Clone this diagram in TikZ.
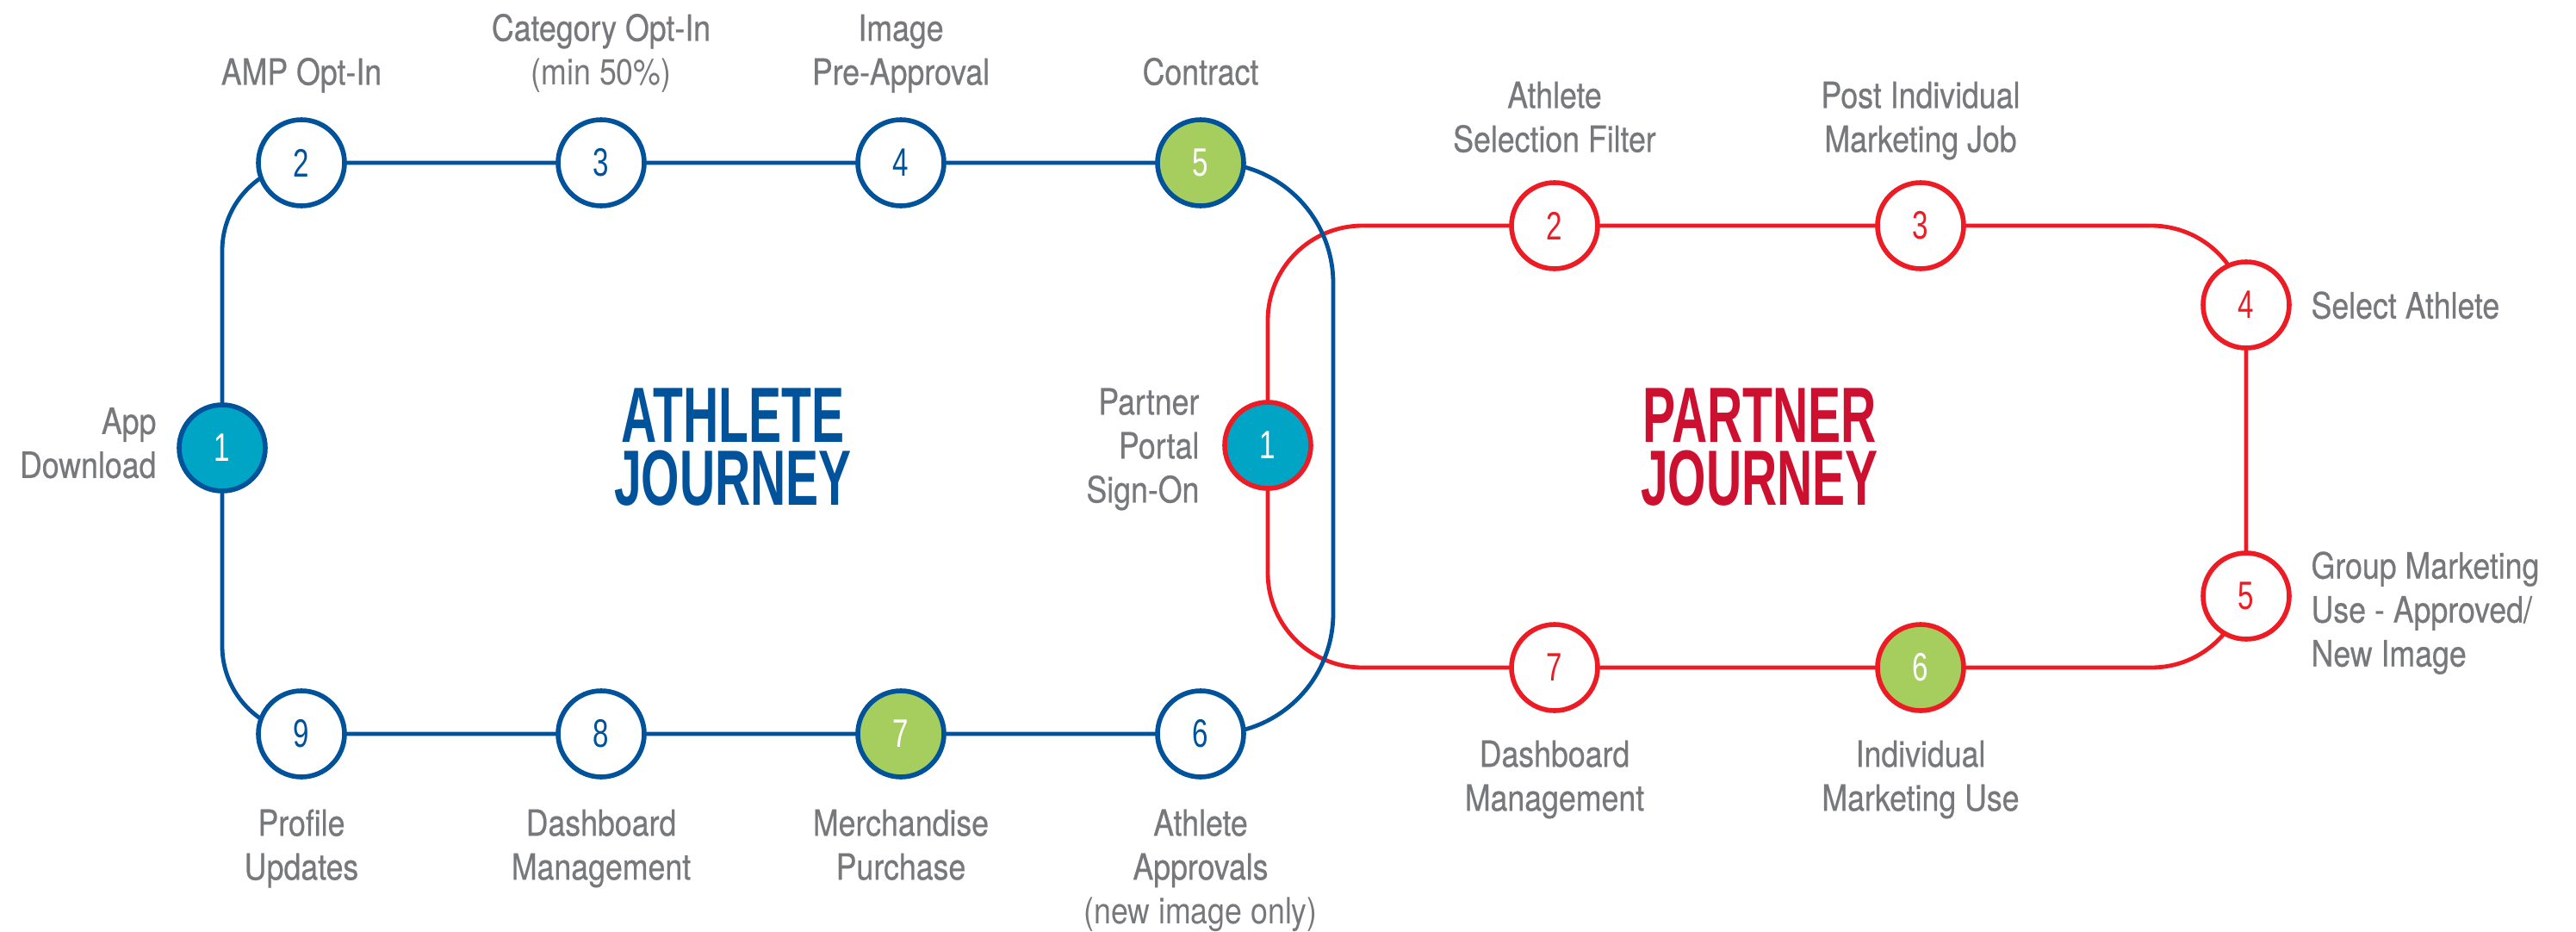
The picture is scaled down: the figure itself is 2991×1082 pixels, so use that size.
\documentclass[tikz,border=0pt]{standalone}
\usepackage{fontspec}
\setmainfont{TeX Gyre Heros}[FakeStretch=0.85, FakeBold=0.5]
\newfontfamily\lightfont{TeX Gyre Heros}[FakeStretch=0.85]
\newfontfamily\titlefont{Liberation Sans}[FakeStretch=0.627]
\newfontfamily\numfont{Liberation Sans}[FakeStretch=0.72]
\usetikzlibrary{positioning,
		backgrounds}

\definecolor{ampblue}{HTML}{00529B}
\definecolor{ampred}{HTML}{ED1C24}
\definecolor{titlered}{HTML}{CE1030}
\definecolor{ampcyan}{HTML}{00A5C6}
\definecolor{ampgreen}{HTML}{A6CE5F}
\definecolor{labelgray}{HTML}{77787B}

\begin{document}
\begin{tikzpicture}[x=0.25pt, y=-0.25pt,
  stop/.style={circle, minimum size=25pt, inner sep=0pt, line width=1.4pt, fill=white,
    font=\numfont\fontsize{11.5pt}{11.5pt}\selectfont},
  athstop/.style={stop, draw=ampblue, text=ampblue},
  parstop/.style={stop, draw=ampred, text=ampred},
  start/.style={fill=ampcyan, text=white},
  deal/.style={fill=ampgreen, text=white},
  lbl/.style={font=\fontsize{10.5pt}{12.75pt}\selectfont, text=labelgray,
    align=center, inner sep=0pt, text depth=0pt},
  jtitle/.style={font=\titlefont\bfseries\fontsize{22.75pt}{18.25pt}\selectfont,
    align=center, inner sep=0pt}]

\useasboundingbox (0,0) rectangle (2991,1082);

% athlete journey
\node[athstop, start] (a1) at (258,520) {1};
\node[athstop] (a2) at (350,189) {2};
\node[athstop] (a3) at (698,189) {3};
\node[athstop] (a4) at (1046,189) {4};
\node[athstop, deal] (a5) at (1394,189) {5};
\node[athstop] (a6) at (1394,852) {6};
\node[athstop, deal] (a7) at (1046,852) {7};
\node[athstop] (a8) at (698,852) {8};
\node[athstop] (a9) at (350,852) {9};
\coordinate (ar) at (1548,520);

% partner journey
\node[parstop, start] (p1) at (1472,517) {1};
\node[parstop] (p2) at (1805,262) {2};
\node[parstop] (p3) at (2230,262) {3};
\node[parstop] (p4) at (2608,354) {4};
\node[parstop] (p5) at (2608,692) {5};
\node[parstop, deal] (p6) at (2230,775) {6};
\node[parstop] (p7) at (1805,775) {7};
\coordinate (pr) at (2608,518);

\begin{scope}[on background layer]
\draw[line width=1.2pt, ampred]
  (p1.center) [rounded corners=27.5pt] |- (p3.center) -| (pr) |- (p7.center) -| (p1.center);
\draw[line width=1.2pt, ampblue]
  (a1.center) [rounded corners=25.5pt] |- (a3.center)
  [rounded corners=35pt] -| (ar) |- (a7.center)
  [rounded corners=25.5pt] -| (a1.center);
\end{scope}

\node[jtitle, text=ampblue] (athtitle) at (851,519) {ATHLETE\\JOURNEY};
\node[jtitle, text=titlered] (partitle) at (2043,519) {PARTNER\\JOURNEY};

\node[lbl, left=5.75pt of a1, align=right, yshift=1.5pt] (l1) {App\\Download};
\node[lbl, above=9.25pt of a2] (l2) {AMP Opt-In};
\node[lbl, above=9.25pt of a3] (l3) {Category Opt-In\\{\lightfont(min 50\%)}};
\node[lbl, above=9.25pt of a4] (l4) {Image\\Pre-Approval};
\node[lbl, above=9.25pt of a5] (l5) {Contract};
\node[lbl, below=8.5pt of a6] (l6) {Athlete\\Approvals\\{\lightfont(new image only)}};
\node[lbl, below=8.5pt of a7] (l7) {Merchandise\\Purchase};
\node[lbl, below=8.5pt of a8] (l8) {Dashboard\\Management};
\node[lbl, below=8.5pt of a9] (l9) {Profile\\Updates};

\node[lbl, left=6.5pt of p1, align=right] (m1) {Partner\\Portal\\Sign-On};
\node[lbl, above=8pt of p2] (m2) {Athlete\\Selection Filter};
\node[lbl, above=8pt of p3] (m3) {Post Individual\\Marketing Job};
\node[lbl, right=5.5pt of p4, align=left] (m4) {Select Athlete};
\node[lbl, right=5.5pt of p5, align=left, yshift=-3.75pt] (m5) {Group Marketing\\Use - Approved/\\New Image};
\node[lbl, below=7.75pt of p6] (m6) {Individual\\Marketing Use};
\node[lbl, below=7.75pt of p7] (m7) {Dashboard\\Management};

\end{tikzpicture}
\end{document}
